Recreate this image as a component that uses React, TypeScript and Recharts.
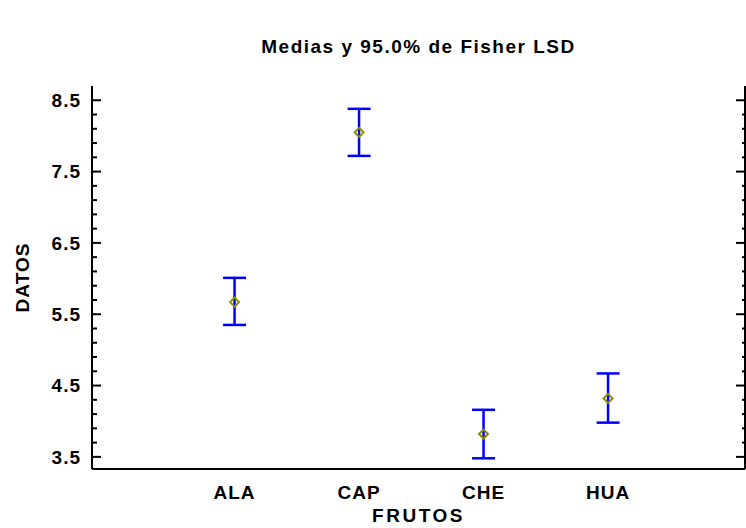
import React from 'react';
import { ComposedChart, Scatter, ErrorBar, XAxis, YAxis } from 'recharts';

const categories = ['ALA', 'CAP', 'CHE', 'HUA'];
const positions = [1, 2, 3, 4];
const means = [5.67, 8.05, 3.82, 4.32];
const lower = [5.35, 7.72, 3.48, 3.98];
const upper = [6.01, 8.38, 4.16, 4.67];

const yTicks = [3.5, 3.7, 3.9, 4.1, 4.3, 4.5, 4.7, 4.9, 5.1, 5.3, 5.5, 5.7, 5.9, 6.1, 6.3, 6.5, 6.7, 6.9, 7.1, 7.3, 7.5, 7.7, 7.9, 8.1, 8.3, 8.5];
const majorTicks = [3.5, 4.5, 5.5, 6.5, 7.5, 8.5];

const FONT = '"Liberation Sans", Arial, sans-serif';
const PLOT_LEFT = 92;
const PLOT_RIGHT = 745;

const data = categories.map((name, i) => ({
  name,
  x: positions[i],
  y: means[i],
  err: [means[i] - lower[i], upper[i] - means[i]],
}));

const isMajor = (v: number) => majorTicks.some(m => Math.abs(m - v) < 0.001);

// left axis: inward tick marks + labels for the major values
const LeftTick = (props: any) => {
  const { y, payload } = props;
  const v = payload.value;
  const major = isMajor(v);
  return (
    <g>
      <line x1={PLOT_LEFT} x2={PLOT_LEFT + (major ? 9 : 5)} y1={y} y2={y} stroke="#000" strokeWidth={2} />
      {major && (
        <text x={PLOT_LEFT - 11} y={y} dy="0.36em" textAnchor="end" fontFamily={FONT} fontWeight="bold" fontSize={19} fill="#000" letterSpacing={1}>
          {v.toFixed(1)}
        </text>
      )}
    </g>
  );
};

const RightTick = (props: any) => {
  const { y, payload } = props;
  const major = isMajor(payload.value);
  return <line x1={PLOT_RIGHT} x2={PLOT_RIGHT - (major ? 9 : 3)} y1={y} y2={y} stroke="#000" strokeWidth={2} />;
};

const Diamond = (props: any) => {
  const { cx, cy } = props;
  const r = 4.5;
  return (
    <path
      d={`M${cx - r},${cy} L${cx},${cy - r} L${cx + r},${cy} L${cx},${cy + r} Z`}
      fill="none"
      stroke="#8c8c00"
      strokeWidth={2}
    />
  );
};

export default function App() {
  return (
    <div style={{ position: 'absolute', left: 0, top: 0, width: 746, height: 528, background: '#fff' }}>
      <div
        style={{
          position: 'absolute',
          left: 92,
          width: 653,
          top: 36,
          textAlign: 'center',
          fontFamily: FONT,
          fontWeight: 'bold',
          fontSize: 19,
          letterSpacing: 1.5,
        }}
      >
        Medias y 95.0% de Fisher LSD
      </div>
      <ComposedChart width={746} height={528} data={data} margin={{ top: 86, right: 0, bottom: 19, left: 52 }}>
        <XAxis
          dataKey="x"
          type="number"
          domain={[-0.145, 5.1]}
          ticks={positions}
          tickFormatter={(v: number) => categories[positions.indexOf(v)] ?? ''}
          tickLine={false}
          tickSize={0}
          tickMargin={17}
          axisLine={{ stroke: '#000', strokeWidth: 2 }}
          height={40}
          interval={0}
          tick={{ fontFamily: FONT, fontWeight: 'bold', fontSize: 19, fill: '#000', letterSpacing: 1 }}
          label={{ value: 'FRUTOS', position: 'insideBottom', offset: -13, fontFamily: FONT, fontWeight: 'bold', fontSize: 19, fill: '#000', letterSpacing: 2.5 }}
        />
        <XAxis
          xAxisId="top"
          orientation="top"
          type="number"
          domain={[-0.145, 5.1]}
          tick={false}
          tickLine={false}
          height={0}
          axisLine={{ stroke: '#000', strokeWidth: 2 }}
        />
        <YAxis
          dataKey="y"
          type="number"
          domain={[3.33, 8.7]}
          ticks={yTicks}
          interval={0}
          tickLine={false}
          tickSize={0}
          tickMargin={12}
          width={40}
          allowDataOverflow
          axisLine={{ stroke: '#000', strokeWidth: 2 }}
          tick={(p: any) => <LeftTick {...p} />}
          label={{ value: 'DATOS', angle: -90, position: 'insideLeft', offset: -30, fontFamily: FONT, fontWeight: 'bold', fontSize: 19, fill: '#000', letterSpacing: 1, style: { textAnchor: 'middle' } }}
        />
        <YAxis
          yAxisId="r"
          orientation="right"
          type="number"
          domain={[3.33, 8.7]}
          ticks={yTicks}
          interval={0}
          tickLine={false}
          tickSize={0}
          tickMargin={0}
          width={1}
          allowDataOverflow
          axisLine={{ stroke: '#000', strokeWidth: 2 }}
          tick={(p: any) => <RightTick {...p} />}
        />
        <Scatter data={data} dataKey="y" shape={<Diamond />} isAnimationActive={false}>
          <ErrorBar dataKey="err" direction="y" width={11.5} stroke="#0000ff" strokeWidth={2.5} isAnimationActive={false} />
        </Scatter>
      </ComposedChart>
    </div>
  );
}
